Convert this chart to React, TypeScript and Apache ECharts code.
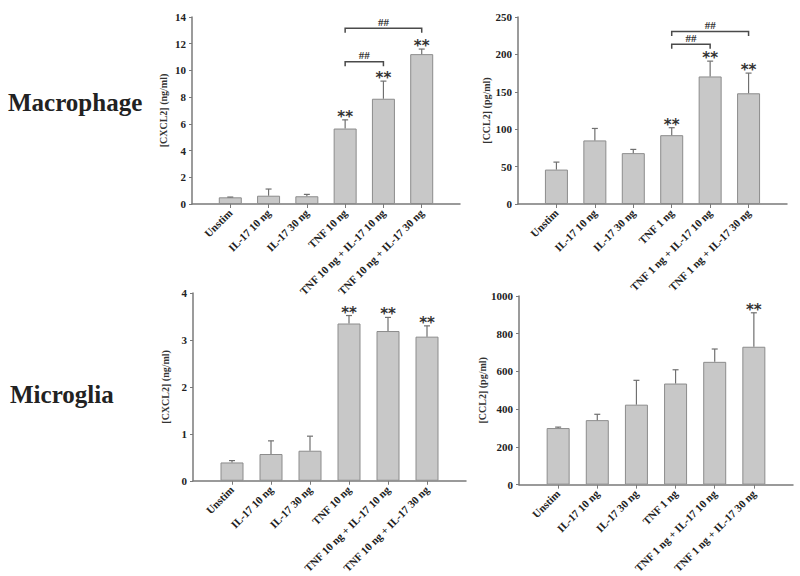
import React, { useEffect, useRef } from "react";
import * as echarts from "echarts";

const catsMac = ["Unstim", "IL-17 10 ng", "IL-17 30 ng", "TNF 10 ng", "TNF 10 ng + IL-17 10 ng", "TNF 10 ng + IL-17 30 ng"];
const catsCcl = ["Unstim", "IL-17 10 ng", "IL-17 30 ng", "TNF 1 ng", "TNF 1 ng + IL-17 10 ng", "TNF 1 ng + IL-17 30 ng"];

const macCxcl2Mean = [0.5, 0.62, 0.58, 5.65, 7.88, 11.22];
const macCxcl2Sem = [0.02, 0.5, 0.14, 0.65, 1.32, 0.38];
const macCxcl2Stars = ["", "", "", "**", "**", "**"];
const macCxcl2Brackets = [[3, 4, 10.65], [3, 5, 13.15]];

const macCcl2Mean = [46, 85, 68, 92, 170.5, 148];
const macCcl2Sem = [10, 16, 5, 10, 20.5, 27];
const macCcl2Stars = ["", "", "", "**", "**", "**"];
const macCcl2Brackets = [[3, 4, 213.5], [3, 5, 230.5]];

const micCxcl2Mean = [0.39, 0.57, 0.64, 3.35, 3.19, 3.07];
const micCxcl2Sem = [0.04, 0.28, 0.31, 0.17, 0.29, 0.23];
const micCxcl2Stars = ["", "", "", "**", "**", "**"];

const micCcl2Mean = [300, 342, 424, 536, 651, 731];
const micCcl2Sem = [5, 31, 129, 73, 68, 180];
const micCcl2Stars = ["", "", "", "", "", "**"];

const SERIF = "Liberation Serif";

type Panel = {
  cats: string[];
  mean: number[];
  sem: number[];
  stars: string[];
  brackets: number[][];
  yMax: number;
  yInt: number;
  yName: string;
  grid: { left: number; top: number; width: number; height: number };
  nameGap: number;
};

const panels: Panel[] = [
  { cats: catsMac, mean: macCxcl2Mean, sem: macCxcl2Sem, stars: macCxcl2Stars, brackets: macCxcl2Brackets, yMax: 14, yInt: 2, yName: "[CXCL2] (ng/ml)", grid: { left: 192, top: 17, width: 268, height: 187 }, nameGap: 24 },
  { cats: catsCcl, mean: macCcl2Mean, sem: macCcl2Sem, stars: macCcl2Stars, brackets: macCcl2Brackets, yMax: 250, yInt: 50, yName: "[CCL2] (pg/ml)", grid: { left: 518, top: 17, width: 269, height: 187 }, nameGap: 27 },
  { cats: catsMac, mean: micCxcl2Mean, sem: micCxcl2Sem, stars: micCxcl2Stars, brackets: [], yMax: 4, yInt: 1, yName: "[CXCL2] (ng/ml)", grid: { left: 193, top: 293, width: 273, height: 191 }, nameGap: 23 },
  { cats: catsCcl, mean: micCcl2Mean, sem: micCcl2Sem, stars: micCcl2Stars, brackets: [], yMax: 1000, yInt: 200, yName: "[CCL2] (pg/ml)", grid: { left: 519, top: 296, width: 274, height: 191 }, nameGap: 27 },
];

function buildOption() {
  const grids: any[] = [];
  const xAxes: any[] = [];
  const yAxes: any[] = [];
  const series: any[] = [];

  panels.forEach((p, k) => {
    grids.push({ ...p.grid, containLabel: false });
    const padded = ["", ...p.cats, " "];
    xAxes.push({
      type: "category",
      gridIndex: k,
      data: padded,
      boundaryGap: false,
      axisLine: { lineStyle: { color: "#7a7a7a", width: 1.5 } },
      axisTick: {
        length: 4,
        lineStyle: { color: "#7a7a7a" },
        interval: (i: number, v: string) => v.trim() !== "",
      },
      axisLabel: {
        interval: 0,
        rotate: 45,
        margin: 7,
        fontFamily: SERIF,
        fontWeight: "bold",
        fontSize: 11,
        color: "#222",
      },
      splitLine: { show: false },
    });
    yAxes.push({
      type: "value",
      gridIndex: k,
      min: 0,
      max: p.yMax,
      interval: p.yInt,
      name: p.yName,
      nameLocation: "middle",
      nameGap: p.nameGap,
      nameRotate: 90,
      nameTextStyle: { fontFamily: SERIF, fontWeight: "bold", fontSize: 10, color: "#333" },
      axisLine: { show: true, lineStyle: { color: "#7a7a7a", width: 1.5 } },
      axisTick: { show: true, length: 3, lineStyle: { color: "#7a7a7a" } },
      axisLabel: {
        fontFamily: SERIF,
        fontWeight: "bold",
        fontSize: 11,
        color: "#222",
        margin: 6,
        formatter: (v: number) => String(v),
      },
      splitLine: { show: false },
    });

    series.push({
      type: "bar",
      xAxisIndex: k,
      yAxisIndex: k,
      barWidth: 23,
      data: [null, ...p.mean, null],
      itemStyle: { color: "#c8c8c8", borderColor: "#8c8c8c", borderWidth: 1 },
    });

    series.push({
      type: "custom",
      xAxisIndex: k,
      yAxisIndex: k,
      data: p.mean.map((m, i) => [i + 1, m, p.sem[i]]),
      encode: { x: 0, y: 1 },
      renderItem: (params: any, api: any) => {
        const x = api.value(0);
        const m = api.value(1);
        const e = api.value(2);
        const a = api.coord([x, m]);
        const b = api.coord([x, m + e]);
        const style = { stroke: "#707070", lineWidth: 1.2 };
        return {
          type: "group",
          children: [
            { type: "line", shape: { x1: a[0], y1: a[1], x2: b[0], y2: b[1] }, style },
            { type: "line", shape: { x1: b[0] - 3, y1: b[1], x2: b[0] + 3, y2: b[1] }, style },
          ],
        };
      },
      z: 3,
    });

    series.push({
      type: "custom",
      xAxisIndex: k,
      yAxisIndex: k,
      data: p.mean.map((m, i) => [i + 1, m + p.sem[i]]),
      encode: { x: 0, y: 1 },
      renderItem: (params: any, api: any) => {
        const label = p.stars[params.dataIndex];
        if (!label) return null;
        const c = api.coord([api.value(0), api.value(1)]);
        return {
          type: "text",
          x: c[0],
          y: c[1] - 3,
          style: {
            text: label,
            fontFamily: "DejaVu Sans",
            fontWeight: "bold",
            fontSize: 15,
            fill: "#333",
            align: "center",
            verticalAlign: "middle",
          },
        };
      },
      z: 4,
    });

    if (p.brackets.length) {
      series.push({
        type: "custom",
        xAxisIndex: k,
        yAxisIndex: k,
        data: p.brackets.map((b) => [b[0] + 1, b[1] + 1, b[2]]),
        encode: { x: [0, 1], y: 2 },
        clip: false,
        renderItem: (params: any, api: any) => {
          const a = api.coord([api.value(0), api.value(2)]);
          const b = api.coord([api.value(1), api.value(2)]);
          return {
            type: "group",
            children: [
              {
                type: "polyline",
                shape: { points: [[a[0], a[1] + 4.5], [a[0], a[1]], [b[0], b[1]], [b[0], b[1] + 4.5]] },
                style: { stroke: "#4a4a4a", lineWidth: 1.5, fill: "none" },
              },
              {
                type: "text",
                x: (a[0] + b[0]) / 2,
                y: a[1] - 1,
                style: {
                  text: "##",
                  fontFamily: SERIF,
                  fontWeight: "bold",
                  fontSize: 11,
                  fill: "#333",
                  align: "center",
                  verticalAlign: "bottom",
                },
              },
            ],
          };
        },
        z: 4,
      });
    }
  });

  return {
    animation: false,
    backgroundColor: "#ffffff",
    grid: grids,
    xAxis: xAxes,
    yAxis: yAxes,
    series,
    graphic: [
      {
        type: "text",
        left: 8,
        top: 90,
        style: { text: "Macrophage", fontFamily: SERIF, fontWeight: "bold", fontSize: 25, fill: "#222" },
      },
      {
        type: "text",
        left: 10,
        top: 382,
        style: { text: "Microglia", fontFamily: SERIF, fontWeight: "bold", fontSize: 25, fill: "#222" },
      },
    ],
  };
}

export default function App() {
  const ref = useRef<HTMLDivElement>(null);
  useEffect(() => {
    if (!ref.current) return;
    const chart = echarts.init(ref.current, null, { renderer: "svg" });
    chart.setOption(buildOption() as any);
    return () => chart.dispose();
  }, []);
  return <div ref={ref} style={{ width: 800, height: 576, position: "absolute", left: 0, top: 0, background: "#fff" }} />;
}
